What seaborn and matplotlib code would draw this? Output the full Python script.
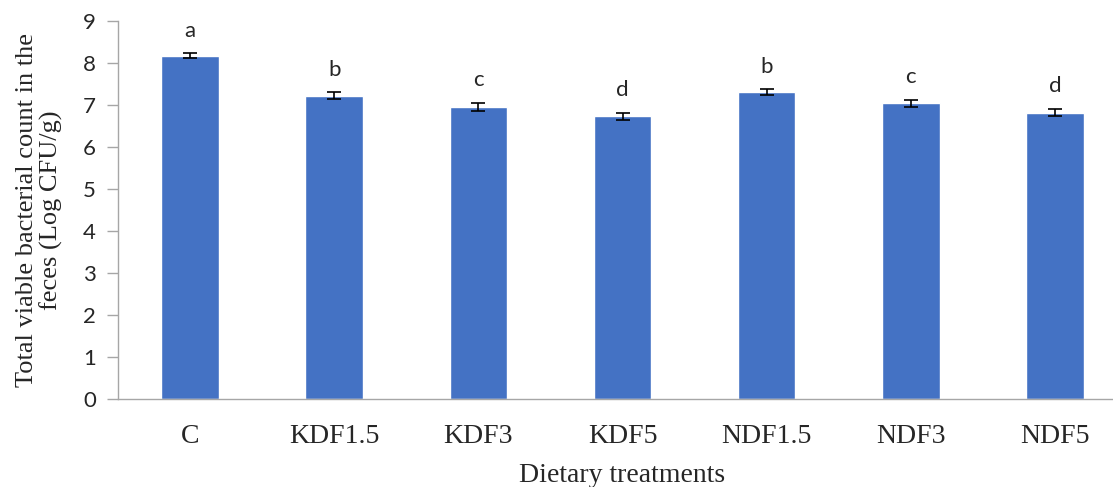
import numpy as np
import pandas as pd
import matplotlib
matplotlib.use("Agg")
import matplotlib.pyplot as plt
import seaborn as sns

# dados
treatments = ["C", "KDF1.5", "KDF3", "KDF5", "NDF1.5", "NDF3", "NDF5"]
means = [8.17, 7.22, 6.95, 6.73, 7.31, 7.04, 6.82]
errors = [0.06, 0.08, 0.10, 0.09, 0.06, 0.08, 0.09]
letters = ["a", "b", "c", "d", "b", "c", "d"]
yticks = [0, 1, 2, 3, 4, 5, 6, 7, 8, 9]

df = pd.DataFrame({"treatment": treatments, "mean": means, "se": errors})

sns.set_style("white")
serif = ["Liberation Serif", "DejaVu Serif"]
sans = ["Lato", "DejaVu Sans"]

fig = plt.figure(figsize=(11.13, 4.87), dpi=100)
ax = fig.add_axes([118 / 1113, 1 - 399 / 487, 1009 / 1113, 378 / 487])

sns.barplot(data=df, x="treatment", y="mean", color="#4472C4", width=0.4,
            saturation=1, errorbar=None, ax=ax)
ax.errorbar(np.arange(len(treatments)), df["mean"], yerr=df["se"], fmt="none",
            ecolor="black", elinewidth=1.2, capsize=5, capthick=1.2)

for i, (m, e, l) in enumerate(zip(means, errors, letters)):
    ax.annotate(l, (i, m + e), xytext=(0, 9), textcoords="offset points",
                ha="center", va="bottom", fontsize=16, family=sans)

ax.set_xlim(-0.5, len(treatments) - 0.5)
ax.set_ylim(0, 9)
ax.set_yticks(yticks)
ax.set_yticklabels([str(t) for t in yticks], family=sans, fontsize=16)
ax.set_xticks(range(len(treatments)))
ax.set_xticklabels(treatments, family=serif, fontsize=20)
ax.tick_params(axis="y", length=8, width=1, color="#A6A6A6", pad=8, direction="out", left=True)
ax.tick_params(axis="x", length=0, pad=18)

for s in ["top", "right"]:
    ax.spines[s].set_visible(False)
for s in ["left", "bottom"]:
    ax.spines[s].set_color("#A6A6A6")
    ax.spines[s].set_linewidth(1)

ax.set_xlabel("Dietary treatments", family=serif, fontsize=20, labelpad=10)
ax.set_ylabel("Total viable bacterial count in the\nfeces (Log CFU/g)", family=serif,
              fontsize=19, linespacing=1.1, labelpad=14)

fig.savefig("out.png", dpi=100)
